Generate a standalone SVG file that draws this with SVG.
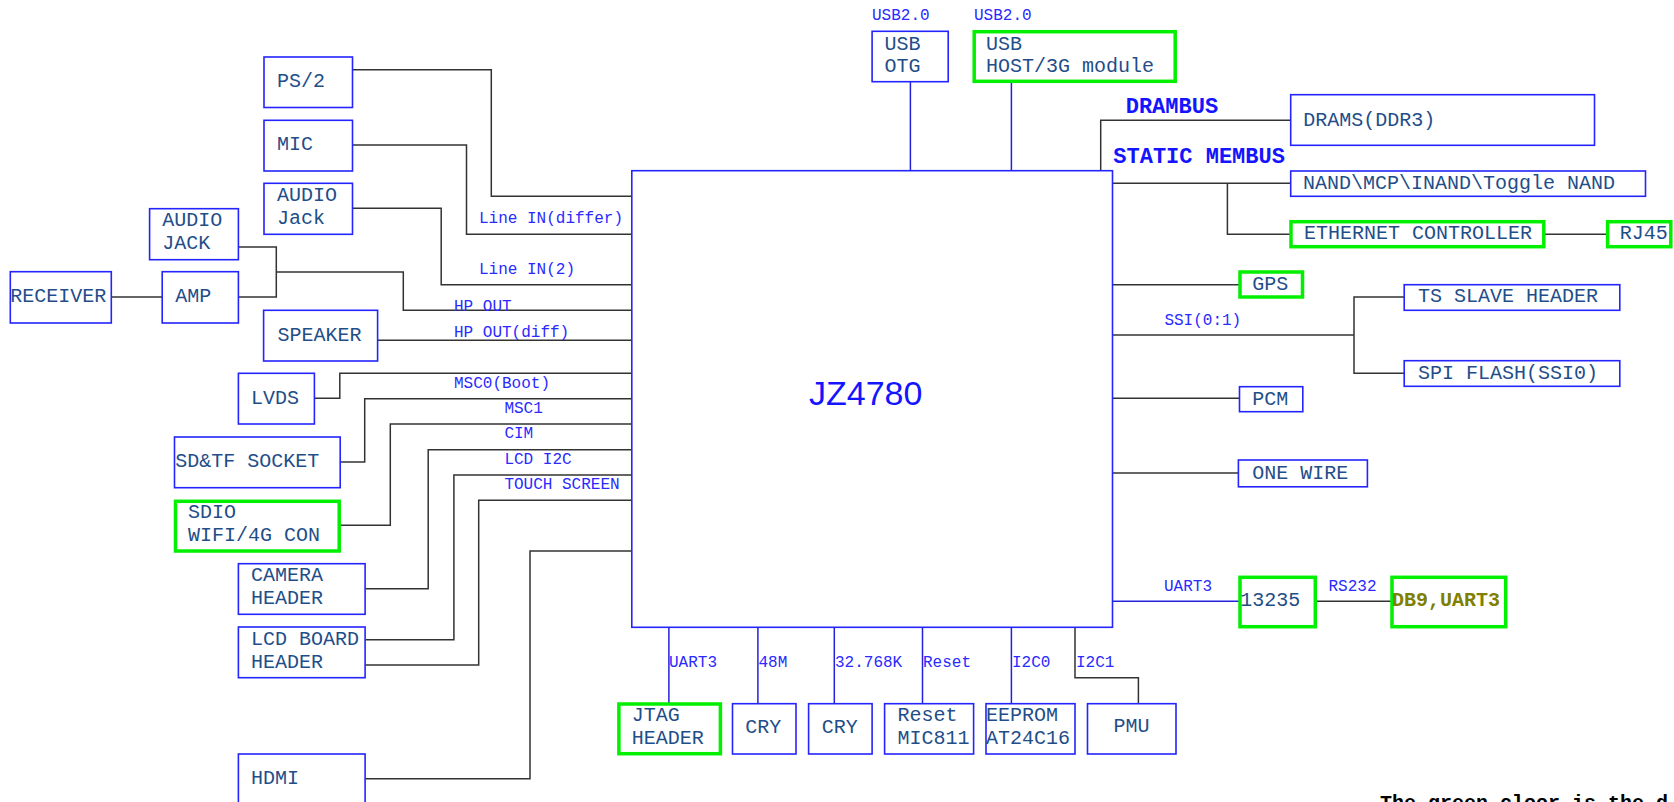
<svg xmlns="http://www.w3.org/2000/svg" width="1674" height="802" viewBox="0 0 1674 802">
<style>
.b{fill:#fff;stroke:#2424ff;stroke-width:1.6}
.g{fill:#fff;stroke:#00f000;stroke-width:3.5}
.t{font-family:"Liberation Mono","Courier New",monospace;font-size:20px;fill:#1f4e89}
.l{font-family:"Liberation Mono","Courier New",monospace;font-size:16px;fill:#2a2aff}
.bus{font-family:"Liberation Mono","Courier New",monospace;font-size:22px;font-weight:bold;fill:#1414ff}
.c{fill:none;stroke:#333;stroke-width:1.5}
.cb{fill:none;stroke:#2222dd;stroke-width:1.5}
</style>
<rect width="1674" height="802" fill="#fff"/>
<g id="connectors">
<polyline class="c" points="352.7,69.7 491.3,69.7 491.3,196.3 631.8,196.3"/>
<polyline class="c" points="352.7,145 466.5,145 466.5,234.3 631.8,234.3"/>
<polyline class="c" points="352.7,208.3 441.2,208.3 441.2,284.7 631.8,284.7"/>
<polyline class="c" points="238.4,247 276.3,247 276.3,297 238.4,297"/>
<polyline class="c" points="276.3,272 403.3,272 403.3,310.3 631.8,310.3"/>
<polyline class="c" points="111.4,297 162.2,297"/>
<polyline class="c" points="377.7,340.3 631.8,340.3"/>
<polyline class="c" points="314.5,398.3 339.8,398.3 339.8,373.3 631.8,373.3"/>
<polyline class="c" points="340.2,462 364.7,462 364.7,398.7 631.8,398.7"/>
<polyline class="c" points="340.2,525.3 390.3,525.3 390.3,424 631.8,424"/>
<polyline class="c" points="365.1,588.7 428.2,588.7 428.2,449.7 631.8,449.7"/>
<polyline class="c" points="365.1,639.7 453.9,639.7 453.9,475 631.8,475"/>
<polyline class="c" points="365.1,665 478.7,665 478.7,500.3 631.8,500.3"/>
<polyline class="c" points="365.1,778.7 530,778.7 530,551 631.8,551"/>
<polyline class="cb" points="910.4,81.7 910.4,170.7"/>
<polyline class="cb" points="1011.4,82.3 1011.4,170.7"/>
<polyline class="c" points="1100.7,170.7 1100.7,120.3 1290.7,120.3"/>
<polyline class="c" points="1112.5,183.3 1290.7,183.3"/>
<polyline class="c" points="1227.4,183.3 1227.4,234.3 1290,234.3"/>
<polyline class="c" points="1544.8,234.3 1606.6,234.3"/>
<polyline class="c" points="1112.5,284.7 1239,284.7"/>
<polyline class="c" points="1112.5,335 1354,335"/>
<polyline class="c" points="1404.2,297 1354,297 1354,373.3 1404.2,373.3"/>
<polyline class="c" points="1112.5,398.2 1239.5,398.2"/>
<polyline class="c" points="1112.5,473 1238.4,473"/>
<polyline class="cb" points="1112.5,601.3 1239,601.3"/>
<polyline class="c" points="1316.3,601.3 1391,601.3"/>
<polyline class="cb" points="668.9,627.3 668.9,703"/>
<polyline class="cb" points="757.9,627.3 757.9,703.7"/>
<polyline class="cb" points="834.3,627.3 834.3,703.7"/>
<polyline class="cb" points="922.5,627.3 922.5,703.7"/>
<polyline class="cb" points="1011.4,627.3 1011.4,703.7"/>
<polyline class="c" points="1075,627.3 1075,677.7 1138.4,677.7 1138.4,703.7"/>
</g>
<g id="labels">
<text class="l" x="872" y="20">USB2.0</text>
<text class="l" x="974" y="20">USB2.0</text>
<text class="l" x="479" y="223.3">Line IN(differ)</text>
<text class="l" x="479" y="274">Line IN(2)</text>
<text class="l" x="454" y="311">HP OUT</text>
<text class="l" x="454" y="337">HP OUT(diff)</text>
<text class="l" x="454" y="388">MSC0(Boot)</text>
<text class="l" x="504.4" y="413">MSC1</text>
<text class="l" x="504.4" y="438">CIM</text>
<text class="l" x="504.4" y="464">LCD I2C</text>
<text class="l" x="504.4" y="489">TOUCH SCREEN</text>
<text class="l" x="1164.4" y="325">SSI(0:1)</text>
<text class="l" x="1164" y="591">UART3</text>
<text class="l" x="1328.5" y="591">RS232</text>
<text class="l" x="669" y="666.7">UART3</text>
<text class="l" x="758.5" y="666.7">48M</text>
<text class="l" x="835" y="666.7">32.768K</text>
<text class="l" x="923" y="666.7">Reset</text>
<text class="l" x="1012" y="666.7">I2C0</text>
<text class="l" x="1076" y="666.7">I2C1</text>
<text class="bus" x="1125.7" y="113.3">DRAMBUS</text>
<text class="bus" x="1113.3" y="163.3">STATIC MEMBUS</text>
</g>
<g id="chip"><rect class="b" x="631.8" y="170.7" width="480.7" height="456.6"/><text x="809" y="405" font-family="'Liberation Sans',Arial,sans-serif" font-size="34" fill="#1414ff">JZ4780</text></g>
<g id="ps2"><rect class="b" x="264" y="57" width="88.5" height="50.5"/><text class="t" x="277" y="87">PS/2</text></g>
<g id="mic"><rect class="b" x="264" y="120.3" width="88.5" height="50.7"/><text class="t" x="277" y="150">MIC</text></g>
<g id="audiojack1"><rect class="b" x="264" y="183.3" width="88.5" height="51"/><text class="t" x="277" y="201.3">AUDIO</text><text class="t" x="277" y="224.3">Jack</text></g>
<g id="audiojack2"><rect class="b" x="149.6" y="208.7" width="88.8" height="51"/><text class="t" x="162.3" y="226.3">AUDIO</text><text class="t" x="162.3" y="249.3">JACK</text></g>
<g id="receiver"><rect class="b" x="10.3" y="271.7" width="101" height="51.3"/><text class="t" x="10.3" y="302">RECEIVER</text></g>
<g id="amp"><rect class="b" x="162.2" y="271.7" width="76.2" height="51.3"/><text class="t" x="175.3" y="302">AMP</text></g>
<g id="speaker"><rect class="b" x="263.6" y="310.3" width="114" height="50.7"/><text class="t" x="277.4" y="340.7">SPEAKER</text></g>
<g id="lvds"><rect class="b" x="238.4" y="373.3" width="76" height="50.7"/><text class="t" x="251" y="404">LVDS</text></g>
<g id="sdtf"><rect class="b" x="174.5" y="437" width="165.7" height="50.7"/><text class="t" x="175.3" y="467.3">SD&amp;TF SOCKET</text></g>
<g id="sdio"><rect class="g" x="175.5" y="501.3" width="163.7" height="49.7"/><text class="t" x="188" y="517.7">SDIO</text><text class="t" x="188" y="541">WIFI/4G CON</text></g>
<g id="camera"><rect class="b" x="238.4" y="563.7" width="126.7" height="50.6"/><text class="t" x="251" y="581">CAMERA</text><text class="t" x="251" y="604">HEADER</text></g>
<g id="lcdboard"><rect class="b" x="238.4" y="627" width="126.7" height="50.7"/><text class="t" x="251" y="645">LCD BOARD</text><text class="t" x="251" y="668">HEADER</text></g>
<g id="hdmi"><rect class="b" x="238.4" y="754" width="126.7" height="60"/><text class="t" x="251" y="784">HDMI</text></g>
<g id="usbotg"><rect class="b" x="872.1" y="31.3" width="76.1" height="50.4"/><text class="t" x="884.6" y="49.7">USB</text><text class="t" x="884.6" y="72">OTG</text></g>
<g id="usbhost"><rect class="g" x="974.2" y="31.7" width="201" height="49.6"/><text class="t" x="986" y="49.7">USB</text><text class="t" x="986" y="72">HOST/3G module</text></g>
<g id="drams"><rect class="b" x="1290.7" y="94.7" width="303.8" height="50.6"/><text class="t" x="1303.2" y="125.7">DRAMS(DDR3)</text></g>
<g id="nand"><rect class="b" x="1290.7" y="171" width="354.8" height="25.3"/><text class="t" x="1303" y="188.7">NAND\MCP\INAND\Toggle NAND</text></g>
<g id="ethernet"><rect class="g" x="1291" y="221.7" width="252.8" height="25"/><text class="t" x="1304" y="239.3">ETHERNET CONTROLLER</text></g>
<g id="rj45"><rect class="g" x="1607.6" y="221.7" width="63.2" height="25"/><text class="t" x="1619.8" y="239.3">RJ45</text></g>
<g id="gps"><rect class="g" x="1240" y="272" width="62.5" height="25"/><text class="t" x="1252.3" y="289.7">GPS</text></g>
<g id="tsslave"><rect class="b" x="1404.2" y="284.7" width="215.6" height="25.6"/><text class="t" x="1418" y="302.3">TS SLAVE HEADER</text></g>
<g id="spiflash"><rect class="b" x="1404.2" y="360.7" width="215.6" height="25.6"/><text class="t" x="1418" y="378.7">SPI FLASH(SSI0)</text></g>
<g id="pcm"><rect class="b" x="1239.5" y="386.7" width="63.3" height="25"/><text class="t" x="1252.3" y="404.5">PCM</text></g>
<g id="onewire"><rect class="b" x="1238.4" y="460" width="129" height="26.8"/><text class="t" x="1252.3" y="478.5">ONE WIRE</text></g>
<g id="n13235"><rect class="g" x="1240" y="577.3" width="75.3" height="49.4"/><text class="t" x="1240.2" y="606">13235</text></g>
<g id="db9"><rect class="g" x="1392" y="577.3" width="113.7" height="49.4"/><text class="t" x="1392" y="606" font-weight="bold" style="fill:#808000">DB9,UART3</text></g>
<g id="jtag"><rect class="g" x="618.9" y="704" width="101.5" height="49.7"/><text class="t" x="631.8" y="721">JTAG</text><text class="t" x="631.8" y="744">HEADER</text></g>
<g id="cry1"><rect class="b" x="732.5" y="703.7" width="63.5" height="50.3"/><text class="t" x="745.3" y="732.7">CRY</text></g>
<g id="cry2"><rect class="b" x="808.6" y="703.7" width="63.5" height="50.3"/><text class="t" x="821.7" y="732.7">CRY</text></g>
<g id="reset"><rect class="b" x="884.6" y="703.7" width="89" height="50.3"/><text class="t" x="897.4" y="721">Reset</text><text class="t" x="897.4" y="744">MIC811</text></g>
<g id="eeprom"><rect class="b" x="986" y="703.7" width="89" height="50.3"/><text class="t" x="986" y="721">EEPROM</text><text class="t" x="986" y="744">AT24C16</text></g>
<g id="pmu"><rect class="b" x="1087.5" y="703.7" width="88.5" height="50.3"/><text class="t" x="1113.5" y="732.3">PMU</text></g>
<text x="1380" y="809" font-family="'Liberation Mono','Courier New',monospace" font-size="20" font-weight="bold" fill="#000">The green cloor is the d</text>
</svg>
